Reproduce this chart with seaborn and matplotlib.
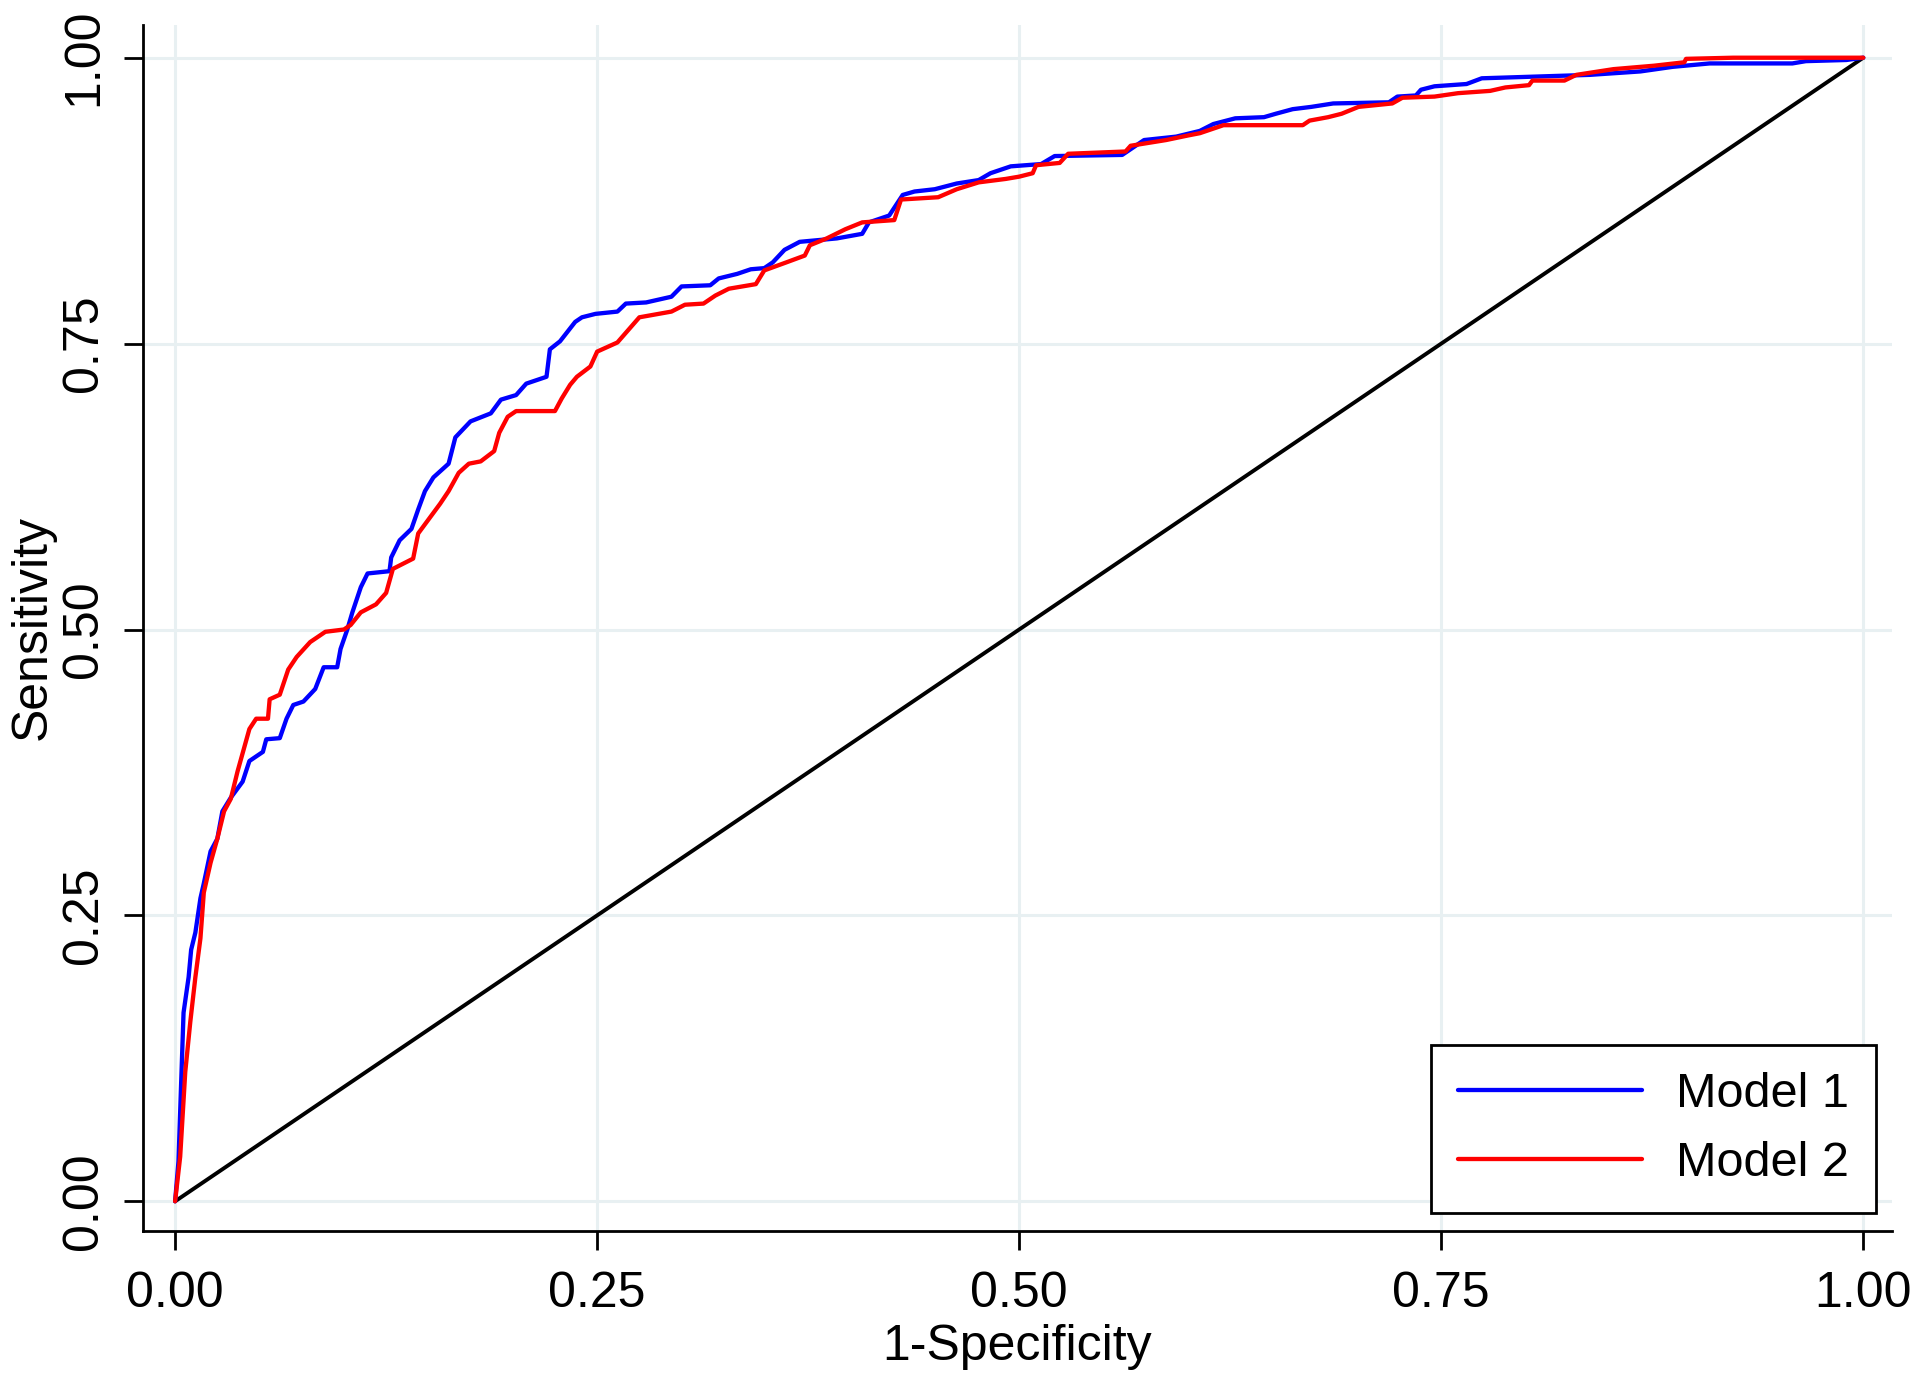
import matplotlib
matplotlib.use("Agg")
import matplotlib.pyplot as plt
import pandas as pd
import seaborn as sns

# ROC points (1-specificity, sensitivity)
fpr_model1 = [0, 0.002, 0.004, 0.005, 0.008, 0.0095, 0.012, 0.015, 0.017, 0.021,
              0.025, 0.028, 0.033, 0.040, 0.044, 0.052, 0.054, 0.062, 0.066, 0.070,
              0.076, 0.083, 0.088, 0.096, 0.098, 0.102, 0.105, 0.110, 0.114, 0.127,
              0.128, 0.133, 0.140, 0.144, 0.148, 0.153, 0.162, 0.166, 0.175, 0.187,
              0.193, 0.202, 0.208, 0.220, 0.222, 0.228, 0.237, 0.241, 0.249, 0.262,
              0.267, 0.279, 0.294, 0.300, 0.317, 0.322, 0.333, 0.341, 0.349, 0.354,
              0.361, 0.370, 0.392, 0.407, 0.411, 0.423, 0.431, 0.438, 0.450, 0.463,
              0.476, 0.483, 0.495, 0.513, 0.521, 0.561, 0.574, 0.593, 0.607, 0.615,
              0.628, 0.645, 0.652, 0.662, 0.673, 0.686, 0.719, 0.724, 0.735, 0.738,
              0.746, 0.765, 0.774, 0.838, 0.868, 0.887, 0.909, 0.958, 0.966, 0.990, 1.0]
tpr_model1 = [0, 0.035, 0.122, 0.165, 0.196, 0.220, 0.235, 0.265, 0.278, 0.306,
              0.317, 0.341, 0.353, 0.367, 0.385, 0.393, 0.404, 0.405, 0.422, 0.434,
              0.437, 0.448, 0.467, 0.467, 0.483, 0.500, 0.515, 0.537, 0.549, 0.551,
              0.563, 0.578, 0.588, 0.605, 0.621, 0.633, 0.645, 0.668, 0.682, 0.689,
              0.701, 0.705, 0.715, 0.721, 0.745, 0.752, 0.769, 0.773, 0.776, 0.778,
              0.785, 0.786, 0.791, 0.800, 0.801, 0.807, 0.811, 0.815, 0.816, 0.821,
              0.832, 0.839, 0.842, 0.846, 0.856, 0.862, 0.880, 0.883, 0.885, 0.890,
              0.893, 0.899, 0.905, 0.907, 0.914, 0.915, 0.928, 0.931, 0.936, 0.942,
              0.947, 0.948, 0.951, 0.955, 0.957, 0.960, 0.961, 0.966, 0.967, 0.972,
              0.975, 0.977, 0.982, 0.985, 0.988, 0.992, 0.995, 0.995, 0.997, 0.998, 1.0]

fpr_model2 = [0, 0.003, 0.006, 0.009, 0.012, 0.015, 0.017, 0.021, 0.025, 0.029,
              0.033, 0.037, 0.044, 0.048, 0.055, 0.056, 0.062, 0.067, 0.072, 0.080,
              0.089, 0.100, 0.104, 0.110, 0.119, 0.125, 0.129, 0.141, 0.144, 0.152,
              0.157, 0.162, 0.168, 0.174, 0.181, 0.189, 0.192, 0.197, 0.202, 0.225,
              0.229, 0.234, 0.238, 0.246, 0.250, 0.262, 0.275, 0.294, 0.302, 0.313,
              0.320, 0.328, 0.344, 0.349, 0.362, 0.373, 0.376, 0.386, 0.397, 0.407,
              0.426, 0.430, 0.452, 0.463, 0.476, 0.492, 0.500, 0.508, 0.510, 0.524,
              0.529, 0.563, 0.566, 0.587, 0.600, 0.607, 0.621, 0.668, 0.672, 0.683,
              0.691, 0.701, 0.721, 0.727, 0.746, 0.760, 0.779, 0.788, 0.802, 0.804,
              0.823, 0.830, 0.852, 0.876, 0.894, 0.895, 0.923, 1.0]
tpr_model2 = [0, 0.039, 0.113, 0.157, 0.196, 0.230, 0.270, 0.296, 0.317, 0.341,
              0.352, 0.376, 0.413, 0.422, 0.422, 0.439, 0.443, 0.465, 0.476, 0.489,
              0.498, 0.500, 0.504, 0.515, 0.522, 0.532, 0.553, 0.562, 0.584, 0.600,
              0.610, 0.621, 0.637, 0.645, 0.647, 0.656, 0.672, 0.686, 0.691, 0.691,
              0.702, 0.714, 0.721, 0.730, 0.743, 0.751, 0.773, 0.778, 0.784, 0.785,
              0.792, 0.798, 0.802, 0.814, 0.821, 0.827, 0.836, 0.842, 0.850, 0.856,
              0.858, 0.876, 0.878, 0.885, 0.891, 0.894, 0.896, 0.899, 0.906, 0.908,
              0.916, 0.918, 0.923, 0.928, 0.932, 0.934, 0.941, 0.941, 0.945, 0.948,
              0.951, 0.957, 0.960, 0.965, 0.966, 0.969, 0.971, 0.974, 0.976, 0.980,
              0.980, 0.985, 0.990, 0.993, 0.996, 0.999, 1.0, 1.0]

ref_line = [0, 1]
ticks = [0, 0.25, 0.5, 0.75, 1.0]
tick_labels = ['0.00', '0.25', '0.50', '0.75', '1.00']

sns.set_style('ticks')
plt.rcParams['font.family'] = ['Liberation Sans', 'DejaVu Sans']
plt.rcParams['text.color'] = 'black'
plt.rcParams['axes.labelcolor'] = 'black'
plt.rcParams['xtick.color'] = 'black'
plt.rcParams['ytick.color'] = 'black'

df = pd.concat([
    pd.DataFrame({'fpr': fpr_model1, 'tpr': tpr_model1, 'Model': 'Model 1'}),
    pd.DataFrame({'fpr': fpr_model2, 'tpr': tpr_model2, 'Model': 'Model 2'}),
])

fig = plt.figure(figsize=(19.2, 13.79), dpi=100)
ax = fig.add_axes([0.0745, 0.1073, 0.9109, 0.8749])

grid_c = '#e8f0f2'
for t in ticks:
    ax.axvline(t, color=grid_c, lw=2.2, zorder=0)
    ax.axhline(t, color=grid_c, lw=2.2, zorder=0)

sns.lineplot(data=df, x='fpr', y='tpr', hue='Model', sort=False, estimator=None,
             palette={'Model 1': '#0000ff', 'Model 2': '#ff0000'},
             linewidth=3.1, ax=ax, zorder=3)
ax.plot(ref_line, ref_line, color='black', lw=2.8, zorder=2)

ax.set_xlim(-0.019, 1.017)
ax.set_ylim(-0.026, 1.029)
ax.set_xticks(ticks)
ax.set_xticklabels(tick_labels)
ax.set_yticks(ticks)
ax.set_yticklabels(tick_labels, rotation=90, va='center')
ax.tick_params(axis='both', labelsize=36, length=14, width=2, color='black')
ax.tick_params(axis='x', pad=15)
ax.tick_params(axis='y', pad=12)
sns.despine(ax=ax)
for s in ['left', 'bottom']:
    ax.spines[s].set_linewidth(2)
    ax.spines[s].set_color('black')

ax.set_xlabel('1-Specificity', fontsize=36, labelpad=5)
ax.set_ylabel('Sensitivity', fontsize=36, labelpad=4)

handles, labels = ax.get_legend_handles_labels()
leg = ax.legend(handles, labels, loc='lower right', bbox_to_anchor=(0.991, 0.015),
                borderaxespad=0, fontsize=35, frameon=True, fancybox=False,
                edgecolor='black', handlelength=3.8, handletextpad=0.7,
                borderpad=0.55, labelspacing=0.5, framealpha=1)
leg.get_frame().set_linewidth(2)
for h in leg.get_lines():
    h.set_linewidth(3.1)

fig.savefig('out.png', dpi=100)
